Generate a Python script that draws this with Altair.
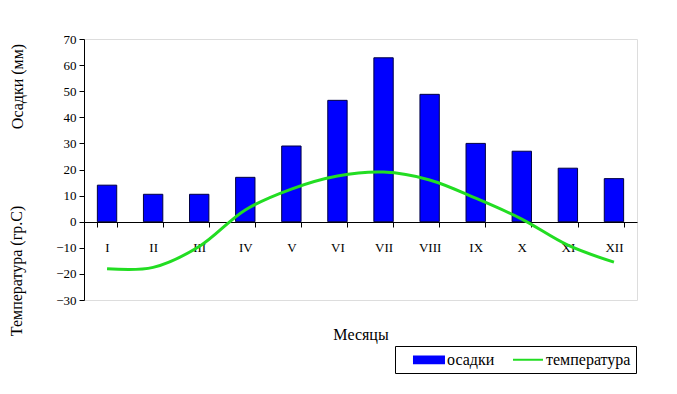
import altair as alt
import pandas as pd

months = ["I", "II", "III", "IV", "V", "VI", "VII", "VIII", "IX", "X", "XI", "XII"]
precip = [14, 10.5, 10.5, 17, 29, 46.5, 62.8, 48.8, 30, 27, 20.5, 16.5]
temp = [-18, -17.5, -9.5, 4.5, 12.5, 17.5, 19, 16, 9, 1, -9, -15.5]
series = ["осадки", "температура"]

FONT = "Liberation Serif"
BLUE = "#0000ff"
GREEN = "#22dd22"

df_p = pd.DataFrame({"month": months, "value": precip, "series": series[0]})
df_t = pd.DataFrame({"month": months, "value": temp, "series": series[1]})

x = alt.X(
    "month:N",
    sort=months,
    scale=alt.Scale(paddingInner=0.58, paddingOuter=0.29),
    axis=alt.Axis(
        title="Месяцы",
        titleFont=FONT,
        titleFontSize=16,
        titleFontWeight="normal",
        titleColor="black",
        titleY=112,
        titleBaseline="middle",
        labelFont=FONT,
        labelFontSize=13,
        labelColor="black",
        labelAngle=0,
        labelPadding=14,
        tickBand="extent",
        tickSize=5,
        tickColor="black",
        domainColor="black",
        offset=-78,
        grid=False,
    ),
)

y = alt.Y(
    "value:Q",
    scale=alt.Scale(domain=[-30, 70], nice=False, zero=False),
    axis=alt.Axis(
        values=list(range(-30, 71, 10)),
        title="Осадки (мм)",
        titleFont=FONT,
        titleFontSize=16,
        titleFontWeight="normal",
        titleColor="black",
        titleX=-67,
        titleY=47,
        titleAngle=270,
        titleAlign="center",
        titleBaseline="middle",
        labelFont=FONT,
        labelFontSize=13,
        labelColor="black",
        labelPadding=3,
        tickSize=5,
        tickColor="black",
        domainColor="black",
        grid=False,
    ),
)

color = alt.Color(
    "series:N",
    scale=alt.Scale(domain=series, range=[BLUE, GREEN]),
    legend=alt.Legend(
        title=None,
        orient="none",
        legendX=311,
        legendY=307,
        direction="horizontal",
        strokeColor="black",
        padding=5,
        labelFont=FONT,
        labelFontSize=16,
        labelColor="black",
        symbolSize=225,
        symbolType={
            "expr": "datum.value === 'осадки' ? 'M0.73,-0.45H4.73V0.45H0.73Z' : 'M0.73,0H4.73'"
        },
        symbolStrokeWidth=2,
        columnPadding=4,
        labelOffset=30,
    ),
)

bars = alt.Chart(df_p).mark_bar(stroke="#000044", strokeWidth=1).encode(x=x, y=y, color=color)

line = alt.Chart(df_t).mark_line(interpolate="catmull-rom", strokeWidth=3).encode(
    x=x, y=y, color=color
)

title2 = alt.Chart(pd.DataFrame({"t": ["Температура (гр.С)"]})).mark_text(
    font=FONT, fontSize=16, angle=270, align="center", baseline="middle", color="black"
).encode(text="t:N", x=alt.value(-67), y=alt.value(232))

chart = (
    alt.layer(bars, line, title2)
    .properties(
        width=553,
        height=261,
        autosize=alt.AutoSizeParams(type="none"),
        padding={"left": 76, "top": 31, "right": 30, "bottom": 86},
    )
    .configure_view(stroke="#808080", strokeWidth=2)
    .configure(background="white")
)

chart.save("out.html", embed_options={"renderer": "svg", "actions": False})
